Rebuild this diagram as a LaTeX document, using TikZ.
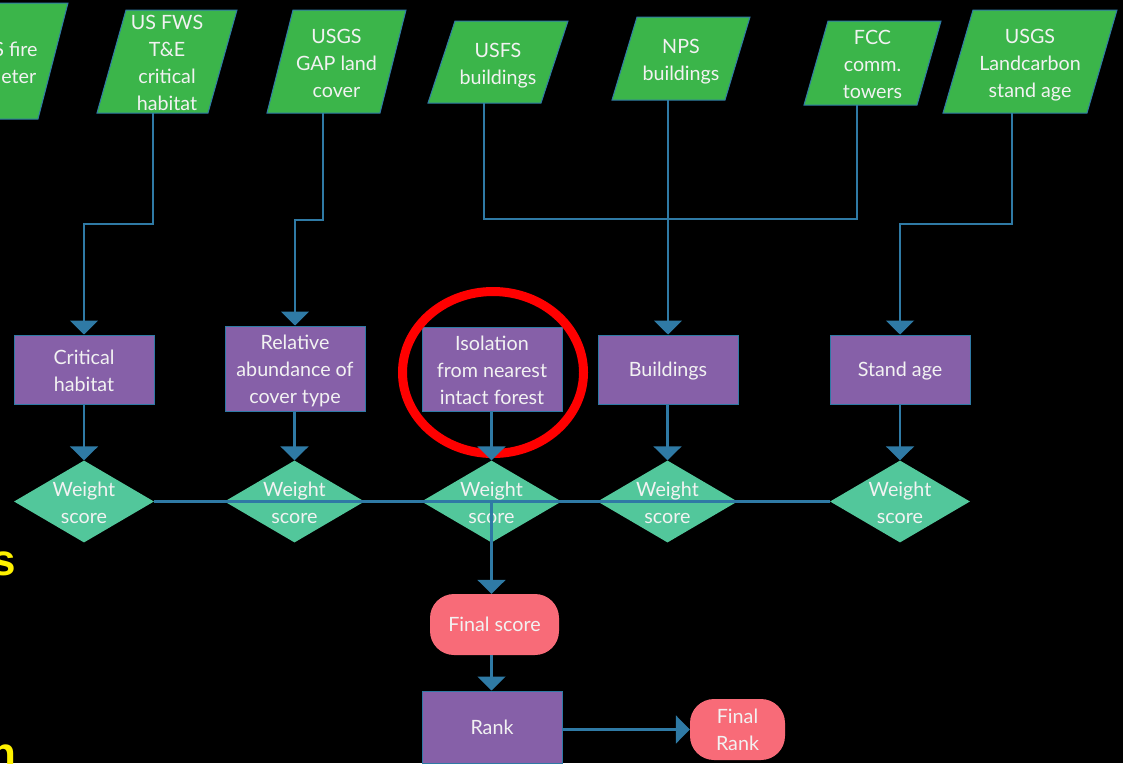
\documentclass[tikz,border=0pt]{standalone}
\usepackage{fontspec}
\setmainfont{Lato}
\newfontfamily\yelfont{Liberation Sans}
\usetikzlibrary{arrows.meta,shapes.geometric}
\definecolor{paragreen}{HTML}{3BB54A}
\definecolor{procpurple}{HTML}{8660A8}
\definecolor{diateal}{HTML}{52C79B}
\definecolor{termpink}{HTML}{F86B78}
\definecolor{connblue}{HTML}{2F7AA5}
\definecolor{txtwhite}{HTML}{F2F2F2}
\newcommand\sline{\rule[-7pt]{0pt}{27pt}}
% name, cx, cy, w, h, slant, text
\newcommand\paranode[7]{%
  \fill[paraf] (#2-#4/2-#6/2,#3+#5/2) -- (#2+#4/2-#6/2,#3+#5/2) -- (#2+#4/2+#6/2,#3-#5/2) -- (#2-#4/2+#6/2,#3-#5/2) -- cycle;
  \node[inner sep=0pt, minimum width=#4, minimum height=#5] (#1) at (#2,#3) {};
  \node[txt] (#1T) at ([yshift=-5pt]#1.center) {#7};}
\begin{document}
\begin{tikzpicture}[x=1pt,y=-1pt,
  txt/.style={text=txtwhite, align=center, inner sep=0pt, font=\fontsize{19.7}{27}\selectfont,
    execute at begin node=\sline, execute at end node=\sline},
  paraf/.style={fill=paragreen, draw=connblue, line width=1pt},
  proc/.style={rectangle, inner sep=0pt, fill=procpurple, draw=connblue, line width=1pt, minimum width=140, minimum height=69},
  dia/.style={diamond, fill=diateal, inner sep=0pt, aspect=1.707, minimum width=140, minimum height=82},
  term/.style={rectangle, inner sep=0pt, rounded corners=24pt, fill=termpink, minimum height=61},
  wire/.style={draw=connblue, line width=2.2pt},
  conn/.style={wire, -{Triangle[width=28pt,length=14pt]}},
  yel/.style={anchor=base east, inner sep=0pt, text=yellow, font=\yelfont\bfseries\fontsize{44}{44}\selectfont}
]
\fill[black] (0,0) rectangle (1123,763);
\useasboundingbox (0,0) rectangle (1123,763);

% data sources
\paranode{fire}{-3}{61}{112}{116}{30}{MTBS fire\hspace*{6pt}\\perimeter\hspace*{6pt}}
\paranode{fws}{167}{61.5}{111}{103}{29}{US FWS\\T\&E\\critical\\habitat}
\paranode{gap}{336.5}{61.5}{113}{103}{26}{USGS\\GAP land\\cover}
\paranode{usfs}{498}{62}{113}{82}{27}{USFS\\buildings}
\paranode{nps}{681}{58.5}{113}{83}{25}{NPS\\buildings}
\paranode{fcc}{872.5}{63}{113}{84}{24}{FCC\\comm.\\towers}
\paranode{lc}{1030}{61.5}{144}{103}{30}{USGS\\Landcarbon\\stand age}

% processes
\node[proc] (crit) at (84,369.5) {};
\node[proc, minimum height=85] (rel) at (295,368.5) {};
\node[proc, minimum height=84] (iso) at (492,369) {};
\node[proc] (bld) at (668,369.5) {};
\node[proc] (stand) at (900,369.5) {};
\node[txt] (critT) at ([yshift=-4.5pt]crit.center) {Critical\\habitat};
\node[txt] (relT) at ([yshift=-4.5pt]rel.center) {Relative\\abundance of\\cover type};
\node[txt] (isoT) at ([yshift=-4.5pt]iso.center) {Isolation\\from nearest\\intact forest};
\node[txt] (bldT) at ([yshift=-0.5pt]bld.center) {Buildings};
\node[txt] (standT) at ([yshift=-0.5pt]stand.center) {Stand age};

% diamonds
\node[dia] (d1) at (84,501.5) {};
\node[dia] (d2) at (294.5,501.5) {};
\node[dia] (d3) at (491.5,501.5) {};
\node[dia] (d4) at (667.5,501.5) {};
\node[dia] (d5) at (900,501.5) {};
\node[txt] (t1) at ([yshift=-4.5pt]d1.center) {Weight\\score};
\node[txt] (t2) at ([yshift=-4.5pt]d2.center) {Weight\\score};
\node[txt] (t3) at ([yshift=-4.5pt]d3.center) {Weight\\score};
\node[txt] (t4) at ([yshift=-4.5pt]d4.center) {Weight\\score};
\node[txt] (t5) at ([yshift=-4.5pt]d5.center) {Weight\\score};

% terminals
\node[term, minimum width=129] (fs) at (494.5,624.5) {};
\node[proc, minimum height=72] (rank) at (492,727) {};
\node[term, minimum width=95] (fr) at (737.5,729.5) {};
\node[txt] (fsT) at (fs.center) {Final score};
\node[txt] (rankT) at ([yshift=-1pt]rank.center) {Rank};
\node[txt] (frT) at ([yshift=-4pt]fr.center) {Final\\Rank};

% highlight
\draw[red, line width=9pt] (493,372.5) ellipse [x radius=90.5, y radius=81];

% connectors
\draw[conn] ([xshift=-14pt]fws.south) -- ++(0,111) -| (crit.north);
\draw[conn] ([xshift=-13.5pt]gap.south) -- ++(0,107) -| (rel.north);
\draw[wire] ([xshift=-14pt]usfs.south) -- ++(0,116) -| ([xshift=-15.5pt]fcc.south);
\draw[conn] (bld.north |- nps.south) -- (bld.north);
\draw[conn] ([xshift=-18pt]lc.south) -- ++(0,111) -| (stand.north);

\draw[conn] (d1.north |- crit.south) -- (d1.north);
\draw[conn] (d2.north |- rel.south) -- (d2.north);
\draw[conn] (d3.north |- iso.south) -- (d3.north);
\draw[conn] (d4.north |- bld.south) -- (d4.north);
\draw[conn] (d5.north |- stand.south) -- (d5.north);

\draw[wire] (d1.east) -- (d5.west);
\draw[conn] (d3.center) -- (d3.center |- fs.north);
\draw[conn] (d3.center |- fs.south) -- (d3.center |- rank.north);
\draw[conn] (rank.east |- fr.west) -- (fr.west);

% clipped slide text
\node[yel] (ys) at (16.5,575) {s};
\node[yel] (yn) at (16.6,768) {n};
\end{tikzpicture}
\end{document}
